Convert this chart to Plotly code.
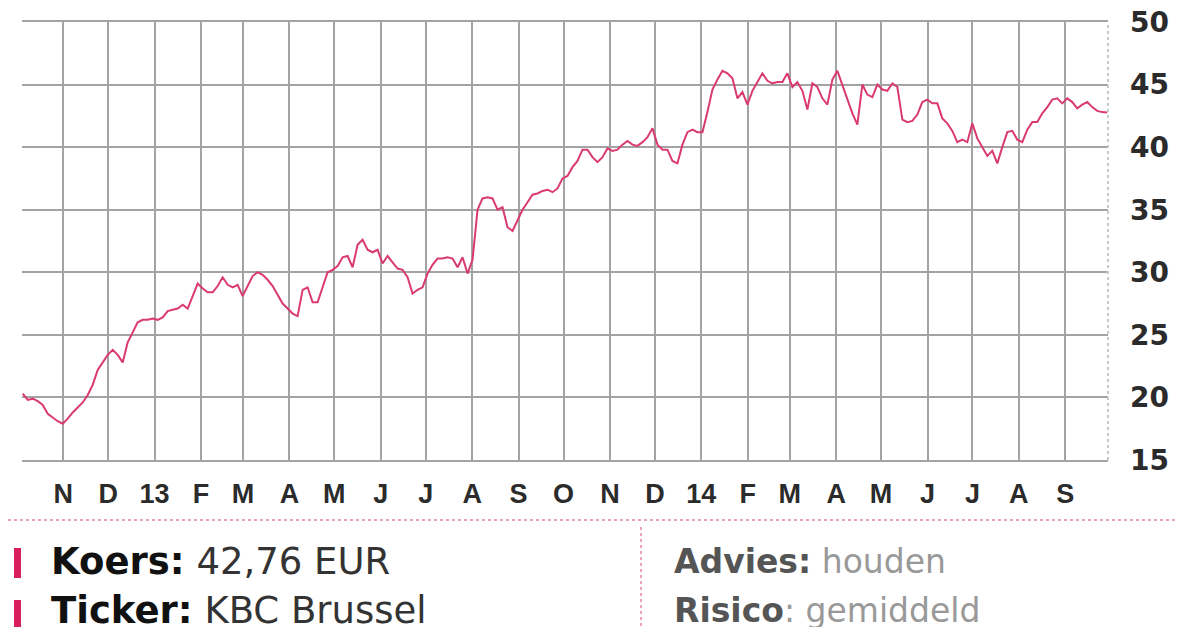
import plotly.graph_objects as go
import pandas as pd

# ---- data ----
start_date = "2012-10-05"
end_date = "2014-09-29"
prices = [
    20.3, 19.8, 19.9, 19.7, 19.4, 18.7, 18.4, 18.1, 17.9, 18.3,
    18.8, 19.2, 19.6, 20.2, 21.0, 22.2, 22.8, 23.4, 23.8, 23.4,
    22.8, 24.4, 25.2, 26.0, 26.2, 26.2, 26.3, 26.2, 26.4, 26.9,
    27.0, 27.1, 27.4, 27.1, 28.1, 29.1, 28.7, 28.4, 28.4, 28.9,
    29.6, 29.0, 28.8, 29.0, 28.1, 28.9, 29.7, 30.0, 29.8, 29.4,
    28.9, 28.2, 27.5, 27.1, 26.7, 26.5, 28.6, 28.8, 27.6, 27.6,
    28.9, 30.0, 30.2, 30.5, 31.2, 31.3, 30.4, 32.2, 32.6, 31.8,
    31.6, 31.8, 30.7, 31.3, 30.8, 30.3, 30.2, 29.6, 28.3, 28.6,
    28.8, 29.9, 30.6, 31.1, 31.1, 31.2, 31.1, 30.4, 31.2, 29.9,
    31.0, 35.0, 35.9, 36.0, 35.9, 35.0, 35.2, 33.6, 33.3, 34.1,
    35.0, 35.6, 36.2, 36.3, 36.5, 36.6, 36.4, 36.7, 37.5, 37.7,
    38.4, 38.9, 39.8, 39.8, 39.2, 38.8, 39.2, 39.9, 39.7, 39.8,
    40.2, 40.5, 40.2, 40.1, 40.4, 40.8, 41.5, 40.2, 39.8, 39.8,
    38.9, 38.7, 40.2, 41.2, 41.4, 41.2, 41.2, 42.8, 44.6, 45.4,
    46.1, 45.9, 45.5, 43.9, 44.4, 43.4, 44.5, 45.2, 45.9, 45.3,
    45.1, 45.2, 45.2, 45.9, 44.8, 45.2, 44.5, 43.0, 45.1, 44.8,
    43.9, 43.4, 45.4, 46.1, 45.0, 43.8, 42.7, 41.8, 45.0, 44.2,
    44.0, 45.0, 44.6, 44.5, 45.1, 44.8, 42.2, 42.0, 42.1, 42.6,
    43.6, 43.8, 43.5, 43.5, 42.3, 41.9, 41.3, 40.4, 40.6, 40.4,
    41.9, 40.7, 40.0, 39.3, 39.7, 38.7, 40.0, 41.2, 41.3, 40.6,
    40.4, 41.4, 42.0, 42.0, 42.7, 43.2, 43.8, 43.9, 43.5, 43.9,
    43.6, 43.1, 43.4, 43.6, 43.2, 42.9, 42.8, 42.76,
]
month_ticks = [
    "2012-11-01", "2012-12-01", "2013-01-01", "2013-02-01", "2013-03-01",
    "2013-04-01", "2013-05-01", "2013-06-01", "2013-07-01", "2013-08-01",
    "2013-09-01", "2013-10-01", "2013-11-01", "2013-12-01", "2014-01-01",
    "2014-02-01", "2014-03-01", "2014-04-01", "2014-05-01", "2014-06-01",
    "2014-07-01", "2014-08-01", "2014-09-01",
]
month_labels = ["N", "D", "13", "F", "M", "A", "M", "J", "J", "A", "S", "O",
                "N", "D", "14", "F", "M", "A", "M", "J", "J", "A", "S"]
y_ticks = [15, 20, 25, 30, 35, 40, 45, 50]
x_range = ["2012-10-04 12:00", "2014-09-29 12:00"]

# ---- layout geometry (screen pixels; page body has an 8px margin) ----
W, H = 1200, 627
OFF = 8
L, R, T, B = 22, 1108, 22, 460


def px(x):
    return (x - L) / (R - L)


def py(y):
    return (B - y) / (B - T)


dates = pd.date_range(start_date, end_date, periods=len(prices))

fig = go.Figure()
fig.add_trace(go.Scatter(
    x=dates, y=prices, mode="lines",
    line=dict(color="#d93a72", width=2),
    hoverinfo="skip", showlegend=False,
))

grid = "#a3a3a3"
fig.update_xaxes(
    type="date", range=x_range, automargin=False,
    tickmode="array", tickvals=month_ticks, ticktext=month_labels,
    showgrid=True, gridcolor=grid, gridwidth=2,
    showline=True, linecolor=grid, linewidth=2, mirror=True,
    ticks="", ticklabelstandoff=9,
    tickfont=dict(family="Liberation Sans", size=27, color="#2b2b2b", weight="bold"),
    zeroline=False,
)
fig.update_yaxes(
    range=[15, 50], side="right", automargin=False,
    tickmode="array", tickvals=y_ticks,
    showgrid=True, gridcolor=grid, gridwidth=2,
    ticks="", ticklabelstandoff=21, ticklabeloverflow="allow",
    tickfont=dict(family="DejaVu Sans", size=28, color="#2b2b2b", weight="bold"),
    zeroline=False, showline=False,
)

shapes = []
# right border of the plot
shapes.append(dict(type="line", xref="paper", yref="paper", x0=1, x1=1, y0=0, y1=1,
                   line=dict(color="#c8c8c8", width=2, dash="dot")))
# pink dotted separators
shapes.append(dict(type="line", xref="paper", yref="paper", x0=px(8), x1=px(1175),
                   y0=py(520), y1=py(520), line=dict(color="#e9a3bd", width=2, dash="dot")))
shapes.append(dict(type="line", xref="paper", yref="paper", x0=px(641), x1=px(641),
                   y0=py(527), y1=py(640), line=dict(color="#e9a3bd", width=2, dash="dot")))
# pink bullets
for top, bot in [(548, 578), (600, 640)]:
    shapes.append(dict(type="rect", xref="paper", yref="paper", x0=px(14), x1=px(21),
                       y0=py(bot), y1=py(top), line=dict(width=0), fillcolor="#d81e5b"))

ann_font = "DejaVu Sans"
fig.update_layout(
    width=W, height=H,
    margin=dict(l=L - OFF, r=W - (R - OFF), t=T - OFF, b=H - (B - OFF), pad=0, autoexpand=False),
    paper_bgcolor="white", plot_bgcolor="white",
    shapes=shapes,
    annotations=[
        dict(text="<span style='color:#111'><b>Koers:</b></span> <span style='color:#333'>42,76 EUR</span>",
             xref="paper", yref="paper", x=px(49), y=py(561), xanchor="left", yanchor="middle",
             showarrow=False, font=dict(family=ann_font, size=37)),
        dict(text="<span style='color:#111'><b>Ticker:</b></span> <span style='color:#333'>KBC Brussel</span>",
             xref="paper", yref="paper", x=px(49), y=py(610), xanchor="left", yanchor="middle",
             showarrow=False, font=dict(family=ann_font, size=37)),
        dict(text="<span style='color:#555'><b>Advies:</b></span> <span style='color:#999'>houden</span>",
             xref="paper", yref="paper", x=px(672), y=py(561), xanchor="left", yanchor="middle",
             showarrow=False, font=dict(family=ann_font, size=33)),
        dict(text="<span style='color:#555'><b>Risico</b></span><span style='color:#999'>: gemiddeld</span>",
             xref="paper", yref="paper", x=px(672), y=py(610), xanchor="left", yanchor="middle",
             showarrow=False, font=dict(family=ann_font, size=33)),
    ],
)

fig.write_html("out.html")
